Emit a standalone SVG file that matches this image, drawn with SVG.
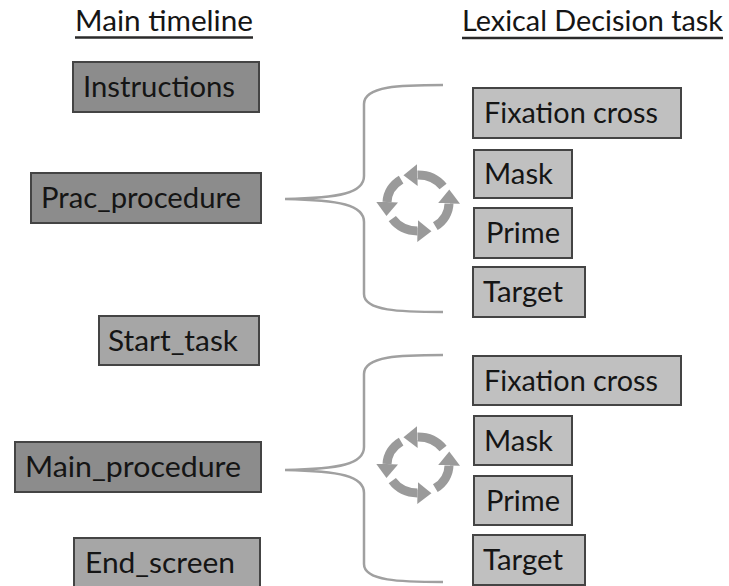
<svg xmlns="http://www.w3.org/2000/svg" width="729" height="586" viewBox="0 0 729 586">
<style>
  text { font-family: Lato, "Liberation Sans", "DejaVu Sans", sans-serif; font-size: 29px; fill: #151515; }
  .dark { fill: #8c8c8c; stroke: #444; stroke-width: 2; }
  .mid { fill: #a6a6a6; stroke: #444; stroke-width: 2; }
  .light { fill: #c0c0c0; stroke: #444; stroke-width: 2; }
  .brace { fill: none; stroke: #a0a0a0; stroke-width: 2.5; }
  .cyc { fill: none; stroke: #9a9a9a; stroke-width: 9; marker-end: url(#ah); }
  .ul { stroke: #2a2a2a; stroke-width: 2.5; }
</style>
<defs>
  <marker id="ah" markerUnits="userSpaceOnUse" markerWidth="16" markerHeight="24" refX="0" refY="11" orient="auto" viewBox="0 0 16 22">
    <path d="M0,0 L14,11 L0,22 z" fill="#9a9a9a"/>
  </marker>
  <g id="cycle">
    <path class="cyc" d="M443.08 186.54 A31 28 0 0 0 417.46 175.0"/>
    <path class="cyc" d="M435.33 226.21 A31 28 0 0 0 449.0 203.49"/>
    <path class="cyc" d="M392.30 218.66 A31 28 0 0 0 417.46 231.0"/>
    <path class="cyc" d="M401.12 179.52 A31 28 0 0 0 387.02 202.02"/>
  </g>
</defs>

<g id="headings">
  <text x="75" y="31" textLength="178" lengthAdjust="spacingAndGlyphs">Main timeline</text>
  <line class="ul" x1="75" y1="37.5" x2="253" y2="37.5"/>
  <text x="462" y="31" textLength="261" lengthAdjust="spacingAndGlyphs">Lexical Decision task</text>
  <line class="ul" x1="462" y1="38" x2="723" y2="38"/>
</g>

<g id="connectors">
  <path class="brace" d="M443 85 C400 85 364 86 364 104 L364 176 C364 193 340 198 285 199 C340 200 364 205 364 222 L364 294 C364 311 400 312 443 312"/>
  <path class="brace" d="M443 355 C400 355 364 356 364 374 L364 447 C364 464 340 469 285 470 C340 471 364 476 364 493 L364 564 C364 581 400 582 443 582"/>
  <use href="#cycle"/>
  <use href="#cycle" transform="translate(0,262)"/>
</g>

<g id="instructions"><rect class="dark" x="73" y="62" width="186" height="50"/><text x="83" y="97" textLength="152" lengthAdjust="spacingAndGlyphs">Instructions</text></g>
<g id="prac_procedure"><rect class="dark" x="31" y="173" width="230" height="50"/><text x="41" y="208" textLength="200" lengthAdjust="spacingAndGlyphs">Prac_procedure</text></g>
<g id="start_task"><rect class="mid" x="99" y="316" width="160" height="49"/><text x="108" y="351" textLength="130" lengthAdjust="spacingAndGlyphs">Start_task</text></g>
<g id="main_procedure"><rect class="dark" x="15" y="442" width="246" height="50"/><text x="25" y="477" textLength="216" lengthAdjust="spacingAndGlyphs">Main_procedure</text></g>
<g id="end_screen"><rect class="mid" x="74" y="538" width="186" height="52"/><text x="85" y="573" textLength="150" lengthAdjust="spacingAndGlyphs">End_screen</text></g>

<g id="fixation1"><rect class="light" x="473" y="88" width="208" height="50"/><text x="484" y="123" textLength="174" lengthAdjust="spacingAndGlyphs">Fixation cross</text></g>
<g id="mask1"><rect class="light" x="474" y="150" width="98" height="48"/><text x="484" y="184" textLength="69" lengthAdjust="spacingAndGlyphs">Mask</text></g>
<g id="prime1"><rect class="light" x="474" y="208" width="98" height="50"/><text x="486" y="243" textLength="74" lengthAdjust="spacingAndGlyphs">Prime</text></g>
<g id="target1"><rect class="light" x="473" y="267" width="112" height="50"/><text x="483" y="302" textLength="80" lengthAdjust="spacingAndGlyphs">Target</text></g>

<g id="fixation2"><rect class="light" x="473" y="356" width="208" height="49"/><text x="484" y="391" textLength="174" lengthAdjust="spacingAndGlyphs">Fixation cross</text></g>
<g id="mask2"><rect class="light" x="474" y="416" width="98" height="49"/><text x="484" y="451" textLength="69" lengthAdjust="spacingAndGlyphs">Mask</text></g>
<g id="prime2"><rect class="light" x="474" y="476" width="98" height="49"/><text x="486" y="511" textLength="74" lengthAdjust="spacingAndGlyphs">Prime</text></g>
<g id="target2"><rect class="light" x="473" y="535" width="112" height="50"/><text x="483" y="570" textLength="80" lengthAdjust="spacingAndGlyphs">Target</text></g>
</svg>
